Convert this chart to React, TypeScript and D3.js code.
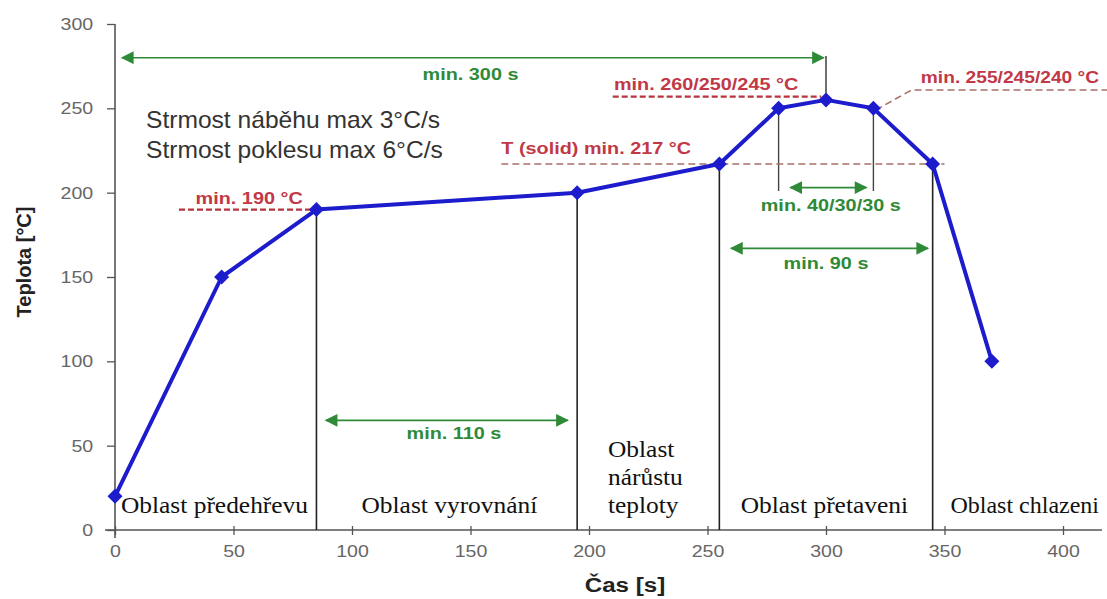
import React, { useEffect, useRef } from "react";
import * as d3 from "d3";

// ---- data ----
const times = [0, 45, 85, 195, 255, 280, 300, 320, 345, 370];
const temps = [20, 150, 190, 200, 217, 250, 255, 250, 217, 100];
const xTicks = [0, 50, 100, 150, 200, 250, 300, 350, 400];
const yTicks = [0, 50, 100, 150, 200, 250, 300];
// vertical region separators (time)
const separators = [85, 195, 255, 345];
const regionLabels = [
  { t: 2.5, lines: ["Oblast předehřevu"] },
  { t: 104, lines: ["Oblast vyrovnání"] },
  { t: 208, lines: ["Oblast", "nárůstu", "teploty"] },
  { t: 264, lines: ["Oblast přetaveni"] },
  { t: 352.5, lines: ["Oblast chlazeni"] },
];
// green double arrows: from, to (s), level (°C), label, label centre (s), label level
const spanArrows = [
  { from: 3, to: 299, at: 280, label: "min. 300 s", lt: 150, lv: 267 },
  { from: 89, to: 191, at: 65, label: "min. 110 s", lt: 143, lv: 54 },
  { from: 285, to: 317, at: 203, label: "min. 40/30/30 s", lt: 302, lv: 189 },
  { from: 260, to: 343, at: 167, label: "min. 90 s", lt: 300, lv: 155 },
];
// red limit labels
const limits = [
  { label: "min. 190 °C", t: 34, v: 193, from: 27, to: 85, at: 190, heavy: true },
  { label: "T (solid) min. 217 °C", t: 163, v: 223, from: 163, to: 350, at: 217, heavy: false },
  { label: "min. 260/250/245 °C", t: 210.5, v: 261, from: 210, to: 298, at: 257, heavy: true },
];
const notes = ["Strmost náběhu max 3°C/s", "Strmost poklesu max 6°C/s"];

const W = 1107;
const H = 599;

function SText(props: any) {
  const { x, y, sx, anchor, children, ...rest } = props;
  return (
    <g transform={`translate(${x},${y}) scale(${sx},1)`}>
      <text x={0} y={0} textAnchor={anchor || "start"} {...rest}>
        {children}
      </text>
    </g>
  );
}

export default function App() {
  const ref = useRef<SVGSVGElement>(null);
  const x = d3.scaleLinear().domain([0, 400]).range([115, 1063]);
  const y = d3.scaleLinear().domain([0, 300]).range([530, 24]);

  useEffect(() => {
    const svg = d3.select(ref.current);
    svg.selectAll(".ax").remove();
    const gx = svg
      .insert("g", ":first-child")
      .attr("class", "ax")
      .attr("transform", `translate(0,${y(0)})`)
      .call(d3.axisBottom(x).tickValues(xTicks).tickSize(5).tickPadding(10).tickSizeOuter(0));
    gx.select(".domain").remove();
    gx.selectAll(".tick line").attr("stroke", "#555").attr("y1", -4).attr("stroke-width", 1.3);
    gx.selectAll(".tick text")
      .attr("fill", "#666")
      .attr("font-size", 17)
      .attr("transform", "scale(1.15,1)")
      .attr("font-family", "Liberation Sans, Arial, sans-serif");
    gx.append("line")
      .attr("x1", x(0) - 10)
      .attr("x2", 1102)
      .attr("stroke", "#555")
      .attr("stroke-width", 1.6);

    const gy = svg
      .insert("g", ":first-child")
      .attr("class", "ax")
      .attr("transform", `translate(${x(0)},0)`)
      .call(d3.axisLeft(y).tickValues(yTicks).tickSize(8).tickPadding(11).tickSizeOuter(0));
    gy.select(".domain").remove();
    gy.selectAll(".tick line").attr("stroke", "#555").attr("stroke-width", 1.3);
    gy.selectAll(".tick text")
      .attr("fill", "#666")
      .attr("font-size", 17)
      .attr("transform", "scale(1.15,1)")
      .attr("font-family", "Liberation Sans, Arial, sans-serif");
    gy.append("line")
      .attr("y1", y(0) + 8)
      .attr("y2", y(300))
      .attr("stroke", "#555")
      .attr("stroke-width", 1.6);
  }, []);

  const pts = times.map((t, i) => [x(t), y(temps[i])] as [number, number]);
  const line = d3.line()(pts) || "";
  const green = "#2f8a38";
  const red = "#c23846";
  const sans = "Liberation Sans, Arial, sans-serif";
  const serif = "Liberation Serif, Times New Roman, serif";

  return (
    <svg
      ref={ref}
      width={W}
      height={H}
      style={{ position: "absolute", left: 0, top: 0, background: "#fff" }}
    >
      <defs>
        <marker id="ah" viewBox="0 0 10 10" refX="9" refY="5" markerWidth="11" markerHeight="8" orient="auto-start-reverse" markerUnits="strokeWidth">
          <path d="M0,0 L10,5 L0,10 Z" fill={green} />
        </marker>
      </defs>

      {/* region separators */}
      {separators.map((t) => (
        <line key={t} x1={x(t)} x2={x(t)} y1={y(temps[times.indexOf(t)])} y2={y(0)} stroke="#222" strokeWidth={1.6} />
      ))}
      {/* peak helper lines */}
      <line x1={x(300)} x2={x(300)} y1={y(281)} y2={y(255)} stroke="#333" strokeWidth={1.4} />
      <line x1={x(280)} x2={x(280)} y1={y(250)} y2={y(201)} stroke="#444" strokeWidth={1.4} />
      <line x1={x(320)} x2={x(320)} y1={y(250)} y2={y(201)} stroke="#444" strokeWidth={1.4} />

      {/* red limits */}
      {limits.map((l) => (
        <g key={l.label}>
          <line
            x1={x(l.from)}
            x2={x(l.to)}
            y1={y(l.at)}
            y2={y(l.at)}
            stroke={l.heavy ? "#b8343e" : "#a87068"}
            strokeWidth={l.heavy ? 2.2 : 1.5}
            strokeDasharray={l.heavy ? "6,3" : "7,4"}
          />
          <SText x={x(l.t)} y={y(l.v)} sx={1.24} fill={red} fontFamily={sans} fontWeight="bold" fontSize={16}>
            {l.label}
          </SText>
        </g>
      ))}
      <path
        d={`M${x(321)},${y(249)} L${x(336)},${y(260.8)} L${W},${y(260.8)}`}
        fill="none"
        stroke="#a87068"
        strokeWidth={1.5}
        strokeDasharray="7,4"
      />
      <SText x={x(340)} y={y(265)} sx={1.2} fill={red} fontFamily={sans} fontWeight="bold" fontSize={16}>
        min. 255/245/240 °C
      </SText>

      {/* green spans */}
      {spanArrows.map((a) => (
        <g key={a.label}>
          <line
            x1={x(a.from)}
            x2={x(a.to)}
            y1={y(a.at)}
            y2={y(a.at)}
            stroke={green}
            strokeWidth={1.6}
            markerStart="url(#ah)"
            markerEnd="url(#ah)"
          />
          <SText x={x(a.lt)} y={y(a.lv)} sx={1.24} anchor="middle" fill={green} fontFamily={sans} fontWeight="bold" fontSize={16}>
            {a.label}
          </SText>
        </g>
      ))}

      {/* notes */}
      {notes.map((n, i) => (
        <SText key={n} x={146} y={128 + i * 30} sx={1.07} fill="#333" fontFamily={sans} fontSize={23}>
          {n}
        </SText>
      ))}

      {/* region labels */}
      {regionLabels.map((r, k) =>
        r.lines.map((ln, i) => (
          <SText
            key={r.t + ln}
            x={x(r.t)}
            y={y(0) - 17 - (r.lines.length - 1 - i) * 28}
            sx={k === regionLabels.length - 1 ? 1.0 : 1.06}
            fill="#111"
            fontFamily={serif}
            fontSize={24}
          >
            {ln}
          </SText>
        ))
      )}

      {/* profile */}
      <path d={line} fill="none" stroke="#1c1ccc" strokeWidth={4} strokeLinejoin="round" />
      {pts.map(([px, py], i) => (
        <path key={i} d={`M${px},${py - 7.5} L${px + 7.5},${py} L${px},${py + 7.5} L${px - 7.5},${py} Z`} fill="#1c1ccc" />
      ))}

      {/* axis titles */}
      <SText x={625} y={592} sx={1.15} anchor="middle" fontFamily={sans} fontWeight="bold" fontSize={21} fill="#222">
        Čas [s]
      </SText>
      <text
        transform={`translate(31,${262}) rotate(-90)`}
        textAnchor="middle"
        fontFamily={sans}
        fontWeight="bold"
        fontSize={20}
        fill="#222"
      >
        Teplota [°C]
      </text>
    </svg>
  );
}
